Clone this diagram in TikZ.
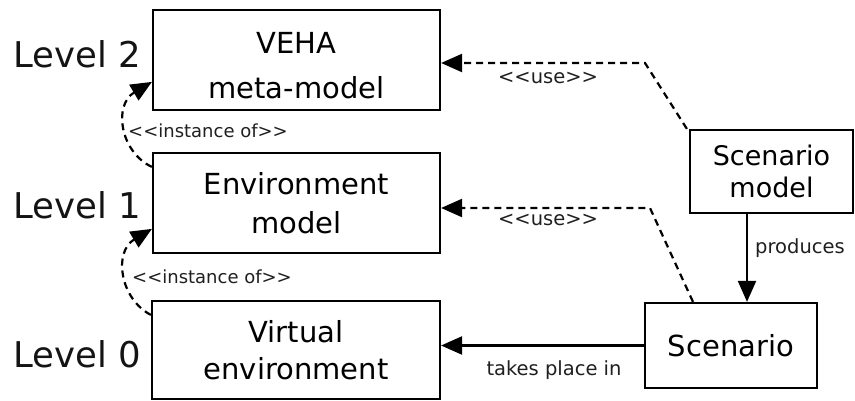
\documentclass[tikz,border=0pt]{standalone}
\usepackage{fontspec}
\setmainfont{DejaVu Sans}
\usetikzlibrary{arrows.meta}
\begin{document}
\begin{tikzpicture}[x=1pt,y=-1pt]
\tikzset{
 box/.style={draw, line width=2.2pt, inner sep=0pt, align=center},
 lvl/.style={font=\fontsize{35.5}{40}\selectfont, text=black!92},
 lab/.style={font=\fontsize{19.5}{22}\selectfont, inner sep=0pt, text=black!88},
 conn/.style={line width=2.2pt, -{Triangle[length=21pt,width=18pt]}},
 dep/.style={conn, dash pattern=on 7pt off 5pt},
}
\useasboundingbox (0,0) rectangle (855,401);

\node[box, minimum width=287pt, minimum height=100pt] (veha) at (296.5,60) {};
\node[align=center, inner sep=0pt, font=\fontsize{29}{45}\selectfont] (vehat) at (296.5,66) {VEHA\\meta-model};
\node[box, minimum width=287pt, minimum height=100pt, font=\fontsize{29}{39}\selectfont] (env) at (296.5,203) {Environment\\model};
\node[box, minimum width=288pt, minimum height=98pt, font=\fontsize{29}{37}\selectfont] (virt) at (296,350) {Virtual\\environment};
\node[box, minimum width=163pt, minimum height=83pt, font=\fontsize{27}{32}\selectfont] (smod) at (771.5,171.5) {Scenario\\model};
\node[box, minimum width=172pt, minimum height=85pt, font=\fontsize{29}{35}\selectfont] (scen) at (731,345.5) {Scenario};

\node[lvl] (l2) at (77,54) {Level 2};
\node[lvl] (l1) at (77,205) {Level 1};
\node[lvl] (l0) at (77,354) {Level 0};

\coordinate (c1) at (645,63);
\coordinate (c2) at (650,208);
\draw[dep] ([xshift=-2pt]smod.north west) -- (c1) -- (veha.east |- c1);
\draw[dep] ([xshift=-38pt]scen.north) -- (c2) -- (env.east |- c2);
\draw[conn] ([xshift=-24.5pt]smod.south) -- ([xshift=16pt]scen.north);
\draw[conn] (scen.west) -- (virt.east |- scen.west);
\draw[dep] ([yshift=-15pt]env.north west) .. controls (120,152) and (113,105) .. ([yshift=-73pt]veha.north west);
\draw[dep] ([yshift=-15pt]virt.north west) .. controls (120,299) and (113,252) .. ([yshift=-77pt]env.north west);

\node[lab] (u1) at (548,78) {<{}<use>{}>};
\node[lab] (u2) at (548,220) {<{}<use>{}>};
\node[lab] (prod) at (800,248) {produces};
\node[lab] (tpi) at (554,370) {takes place in};
\node[lab, font=\fontsize{18}{22}\selectfont] (io1) at (208,131) {<{}<instance of>{}>};
\node[lab, font=\fontsize{18}{22}\selectfont] (io2) at (212,277) {<{}<instance of>{}>};
\end{tikzpicture}
\end{document}
